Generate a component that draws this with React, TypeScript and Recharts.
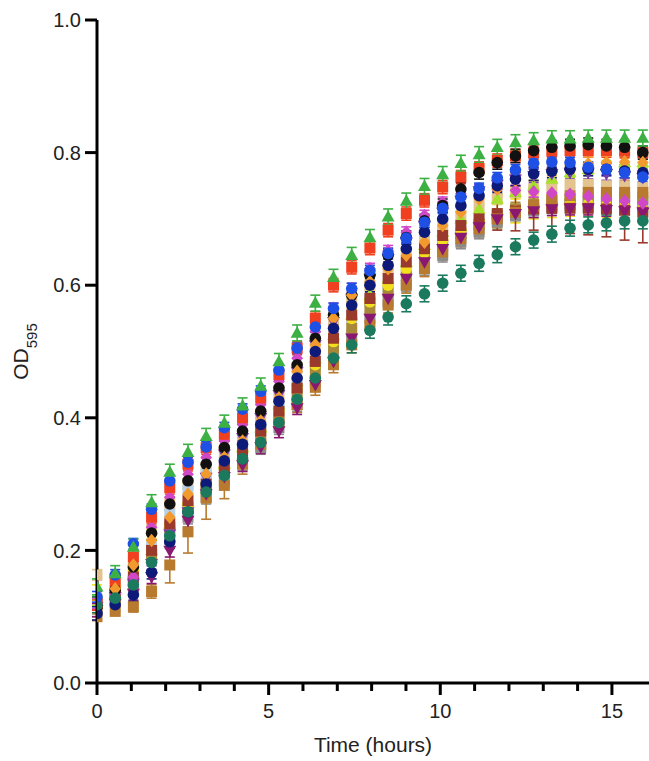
import React from "react";
import { ScatterChart, Scatter, XAxis, YAxis, ErrorBar, Label } from "recharts";

const TIMES = [0, 0.53, 1.06, 1.59, 2.12, 2.65, 3.18, 3.71, 4.24, 4.77, 5.3, 5.83, 6.36, 6.89, 7.42, 7.95, 8.48, 9.01, 9.54, 10.07, 10.6, 11.13, 11.66, 12.19, 12.72, 13.25, 13.78, 14.31, 14.84, 15.37, 15.9];

const X_TICKS = [0, 1, 2, 3, 4, 5, 6, 7, 8, 9, 10, 11, 12, 13, 14, 15];
const Y_TICKS = [0, 0.2, 0.4, 0.6, 0.8, 1.0];

const greenTri = [0.145, 0.165, 0.205, 0.272, 0.318, 0.348, 0.372, 0.392, 0.418, 0.448, 0.485, 0.528, 0.573, 0.612, 0.645, 0.672, 0.703, 0.727, 0.749, 0.767, 0.784, 0.797, 0.808, 0.815, 0.818, 0.821, 0.821, 0.822, 0.822, 0.822, 0.822];
const redSq = [0.12, 0.152, 0.19, 0.25, 0.295, 0.33, 0.355, 0.375, 0.4, 0.43, 0.465, 0.505, 0.55, 0.6, 0.627, 0.656, 0.683, 0.708, 0.728, 0.748, 0.763, 0.776, 0.788, 0.795, 0.8, 0.802, 0.803, 0.803, 0.803, 0.802, 0.8];
const blueCirc = [0.13, 0.163, 0.21, 0.262, 0.305, 0.333, 0.356, 0.385, 0.413, 0.44, 0.472, 0.505, 0.537, 0.565, 0.595, 0.622, 0.648, 0.671, 0.695, 0.716, 0.733, 0.746, 0.762, 0.774, 0.784, 0.786, 0.785, 0.778, 0.775, 0.77, 0.763];
const blackCirc = [0.115, 0.14, 0.175, 0.226, 0.27, 0.305, 0.33, 0.355, 0.38, 0.41, 0.445, 0.48, 0.52, 0.555, 0.585, 0.615, 0.645, 0.672, 0.697, 0.72, 0.745, 0.77, 0.785, 0.795, 0.803, 0.808, 0.81, 0.812, 0.81, 0.808, 0.8];
const navyCirc = [0.105, 0.118, 0.133, 0.167, 0.213, 0.258, 0.3, 0.335, 0.36, 0.39, 0.425, 0.46, 0.5, 0.535, 0.57, 0.6, 0.63, 0.655, 0.68, 0.7, 0.72, 0.735, 0.75, 0.76, 0.768, 0.772, 0.775, 0.775, 0.775, 0.772, 0.77];
const brownSq = [0.1, 0.108, 0.115, 0.138, 0.178, 0.228, 0.279, 0.298, 0.33, 0.36, 0.393, 0.42, 0.446, 0.48, 0.51, 0.54, 0.57, 0.6, 0.625, 0.65, 0.67, 0.685, 0.7, 0.71, 0.72, 0.73, 0.735, 0.74, 0.74, 0.74, 0.74];
const brownErr = [0.006, 0.006, 0.008, 0.01, 0.027, 0.032, 0.032, 0.02, 0.015, 0.012, 0.012, 0.012, 0.012, 0.012, 0.012, 0.012, 0.012, 0.012, 0.012, 0.012, 0.012, 0.012, 0.012, 0.012, 0.012, 0.012, 0.012, 0.012, 0.012, 0.012, 0.012];
const tealCirc = [0.118, 0.128, 0.148, 0.182, 0.222, 0.258, 0.288, 0.313, 0.338, 0.363, 0.393, 0.428, 0.46, 0.49, 0.51, 0.532, 0.552, 0.572, 0.587, 0.603, 0.618, 0.633, 0.646, 0.658, 0.668, 0.677, 0.686, 0.691, 0.694, 0.697, 0.697];
const plumTri = [0.11, 0.12, 0.135, 0.16, 0.2, 0.245, 0.285, 0.311, 0.329, 0.356, 0.38, 0.415, 0.45, 0.485, 0.52, 0.55, 0.58, 0.61, 0.635, 0.655, 0.672, 0.688, 0.7, 0.708, 0.712, 0.715, 0.716, 0.716, 0.714, 0.712, 0.71];
const magentaDia = [0.12, 0.135, 0.16, 0.235, 0.28, 0.315, 0.34, 0.365, 0.39, 0.42, 0.455, 0.49, 0.53, 0.565, 0.595, 0.625, 0.652, 0.68, 0.705, 0.725, 0.738, 0.744, 0.745, 0.743, 0.741, 0.739, 0.737, 0.734, 0.73, 0.727, 0.724];
const orangeDia = [0.115, 0.142, 0.178, 0.215, 0.25, 0.285, 0.315, 0.34, 0.365, 0.395, 0.43, 0.47, 0.51, 0.55, 0.585, 0.605, 0.625, 0.645, 0.665, 0.69, 0.71, 0.73, 0.745, 0.758, 0.768, 0.775, 0.78, 0.783, 0.785, 0.786, 0.785];
const yellowCirc = [0.13, 0.145, 0.17, 0.2, 0.235, 0.27, 0.3, 0.325, 0.35, 0.38, 0.41, 0.445, 0.48, 0.515, 0.55, 0.575, 0.6, 0.625, 0.65, 0.668, 0.683, 0.695, 0.705, 0.712, 0.718, 0.72, 0.722, 0.722, 0.72, 0.718, 0.715];
const graySq = [0.115, 0.125, 0.145, 0.19, 0.22, 0.25, 0.28, 0.305, 0.33, 0.355, 0.385, 0.42, 0.455, 0.49, 0.52, 0.55, 0.575, 0.6, 0.625, 0.645, 0.665, 0.68, 0.695, 0.705, 0.712, 0.718, 0.722, 0.725, 0.726, 0.726, 0.725];
const lightBlueSq = [0.12, 0.13, 0.155, 0.205, 0.255, 0.29, 0.315, 0.335, 0.36, 0.385, 0.415, 0.45, 0.485, 0.52, 0.55, 0.575, 0.595, 0.62, 0.64, 0.66, 0.675, 0.69, 0.7, 0.71, 0.715, 0.72, 0.72, 0.72, 0.72, 0.718, 0.715];
const oliveSq = [0.11, 0.128, 0.155, 0.19, 0.235, 0.265, 0.295, 0.32, 0.345, 0.37, 0.4, 0.435, 0.47, 0.505, 0.535, 0.565, 0.59, 0.615, 0.64, 0.66, 0.678, 0.692, 0.705, 0.715, 0.722, 0.728, 0.73, 0.732, 0.733, 0.733, 0.732];
const limeTri = [0.125, 0.14, 0.165, 0.2, 0.24, 0.275, 0.305, 0.33, 0.355, 0.385, 0.42, 0.455, 0.49, 0.525, 0.555, 0.585, 0.61, 0.635, 0.66, 0.68, 0.7, 0.715, 0.73, 0.74, 0.75, 0.76, 0.77, 0.775, 0.78, 0.785, 0.785];
const purpleTri = [0.115, 0.13, 0.15, 0.18, 0.225, 0.258, 0.31, 0.345, 0.37, 0.4, 0.435, 0.47, 0.51, 0.545, 0.58, 0.61, 0.64, 0.665, 0.69, 0.71, 0.728, 0.742, 0.752, 0.76, 0.765, 0.768, 0.77, 0.77, 0.768, 0.765, 0.762];
const maroonSq = [0.12, 0.135, 0.16, 0.2, 0.24, 0.275, 0.3, 0.325, 0.35, 0.38, 0.41, 0.445, 0.485, 0.52, 0.555, 0.58, 0.61, 0.635, 0.655, 0.675, 0.69, 0.7, 0.708, 0.712, 0.715, 0.716, 0.716, 0.716, 0.715, 0.713, 0.71];
const maroonErr = [0.01, 0.01, 0.01, 0.01, 0.01, 0.01, 0.01, 0.01, 0.01, 0.01, 0.01, 0.01, 0.01, 0.01, 0.01, 0.01, 0.01, 0.01, 0.01, 0.01, 0.015, 0.02, 0.025, 0.03, 0.032, 0.035, 0.038, 0.04, 0.042, 0.045, 0.046];
const beigeSq = [0.163, 0.158, 0.185, 0.23, 0.27, 0.3, 0.325, 0.35, 0.375, 0.405, 0.44, 0.475, 0.51, 0.545, 0.575, 0.6, 0.625, 0.65, 0.67, 0.69, 0.705, 0.72, 0.73, 0.74, 0.745, 0.75, 0.752, 0.752, 0.75, 0.75, 0.748];

type Kind = "circle" | "square" | "tri" | "itri" | "diamond";

const SERIES: { name: string; values: number[]; err: number | number[]; color: string; kind: Kind }[] = [
  { name: "beige", values: beigeSq, err: 0.008, color: "#e4c48e", kind: "square" },
  { name: "lightblue", values: lightBlueSq, err: 0.01, color: "#b4d2ea", kind: "square" },
  { name: "gray", values: graySq, err: 0.01, color: "#8c8c8c", kind: "square" },
  { name: "olive", values: oliveSq, err: 0.01, color: "#a8893a", kind: "square" },
  { name: "lime", values: limeTri, err: 0.008, color: "#a6e02c", kind: "tri" },
  { name: "yellow", values: yellowCirc, err: 0.018, color: "#f2e01e", kind: "circle" },
  { name: "maroon", values: maroonSq, err: maroonErr, color: "#9a3a2c", kind: "square" },
  { name: "brown", values: brownSq, err: brownErr, color: "#b87a2e", kind: "square" },
  { name: "purple", values: purpleTri, err: 0.01, color: "#7a3aa8", kind: "itri" },
  { name: "plum", values: plumTri, err: 0.01, color: "#8a1870", kind: "itri" },
  { name: "magenta", values: magentaDia, err: 0.008, color: "#d048c8", kind: "diamond" },
  { name: "red", values: redSq, err: 0.01, color: "#f04020", kind: "square" },
  { name: "black", values: blackCirc, err: 0.01, color: "#111111", kind: "circle" },
  { name: "orange", values: orangeDia, err: 0.01, color: "#f29a2e", kind: "diamond" },
  { name: "navy", values: navyCirc, err: 0.01, color: "#0d1a7a", kind: "circle" },
  { name: "teal", values: tealCirc, err: 0.012, color: "#1b7a5e", kind: "circle" },
  { name: "blue", values: blueCirc, err: 0.008, color: "#1e50e6", kind: "circle" },
  { name: "green", values: greenTri, err: 0.012, color: "#3cb043", kind: "tri" },
];

const FONT = "'Liberation Sans', Arial, Helvetica, sans-serif";

function makeShape(kind: Kind, color: string) {
  return (props: any) => {
    const { cx, cy } = props;
    if (cx == null || cy == null) return <g />;
    switch (kind) {
      case "circle":
        return <circle cx={cx} cy={cy} r={5.8} fill={color} />;
      case "square":
        return <rect x={cx - 5.5} y={cy - 5.5} width={11} height={11} fill={color} />;
      case "tri":
        return <polygon points={`${cx},${cy - 6.8} ${cx + 6.5},${cy + 4.7} ${cx - 6.5},${cy + 4.7}`} fill={color} />;
      case "itri":
        return <polygon points={`${cx},${cy + 6.8} ${cx + 6.5},${cy - 4.7} ${cx - 6.5},${cy - 4.7}`} fill={color} />;
      case "diamond":
      default:
        return <polygon points={`${cx},${cy - 6.8} ${cx + 5.8},${cy} ${cx},${cy + 6.8} ${cx - 5.8},${cy}`} fill={color} />;
    }
  };
}

const XTick = (props: any) => {
  const { x, y, payload } = props;
  const v = payload.value;
  const major = v % 5 === 0;
  return (
    <g>
      <line x1={x} x2={x} y1={y} y2={y + (major ? 12 : 8)} stroke="#000" strokeWidth={3} />
      {major && (
        <text x={x} y={y + 35} textAnchor="middle" fontSize={20} fill="#222" fontFamily={FONT}>
          {v}
        </text>
      )}
    </g>
  );
};

const YLabel = (props: any) => {
  const vb = props.viewBox || { x: 0, y: 20, width: 97, height: 663 };
  const cx = 28;
  const cy = vb.y + vb.height / 2;
  return (
    <text
      x={cx}
      y={cy}
      transform={`rotate(-90, ${cx}, ${cy})`}
      textAnchor="middle"
      fontSize={21}
      fill="#222"
      fontFamily={FONT}
    >
      OD
      <tspan fontSize={15} dy={9}>
        595
      </tspan>
    </text>
  );
};

const XLabel = (props: any) => {
  const vb = props.viewBox || { x: 97, y: 683, width: 552, height: 78 };
  return (
    <text x={vb.x + vb.width / 2} y={vb.y + 69} textAnchor="middle" fontSize={21} fill="#222" fontFamily={FONT}>
      Time (hours)
    </text>
  );
};

export default function App() {
  return (
    <div style={{ position: "absolute", left: 0, top: 0, width: 649, height: 761, background: "#fff" }}>
      <ScatterChart width={649} height={761} margin={{ top: 20, right: 0, bottom: 0, left: 0 }}>
        <XAxis
          type="number"
          dataKey="t"
          domain={[0, 16.08]}
          ticks={X_TICKS}
          interval={0}
          allowDataOverflow
          height={78}
          axisLine={{ stroke: "#000", strokeWidth: 3 }}
          tickLine={false}
          tickSize={0}
          tickMargin={0}
          tick={<XTick />}
        >
          <Label content={<XLabel />} />
        </XAxis>
        <YAxis
          type="number"
          dataKey="v"
          domain={[0, 1]}
          ticks={Y_TICKS}
          interval={0}
          width={97}
          axisLine={{ stroke: "#000", strokeWidth: 3 }}
          tickLine={{ stroke: "#000", strokeWidth: 3 }}
          tickSize={12}
          tickMargin={4}
          tickFormatter={(v: number) => v.toFixed(1)}
          tick={{ fontSize: 20, fill: "#222", fontFamily: FONT }}
        >
          <Label content={<YLabel />} />
        </YAxis>
        {SERIES.map((s) => {
          const data = TIMES.map((t, i) => ({
            t,
            v: s.values[i],
            e: Array.isArray(s.err) ? s.err[i] : s.err,
          }));
          return (
            <Scatter
              key={s.name}
              name={s.name}
              data={data}
              fill={s.color}
              shape={makeShape(s.kind, s.color)}
              isAnimationActive={false}
            >
              <ErrorBar dataKey="e" direction="y" width={5} stroke={s.color} strokeWidth={1.6} isAnimationActive={false} />
            </Scatter>
          );
        })}
      </ScatterChart>
    </div>
  );
}
